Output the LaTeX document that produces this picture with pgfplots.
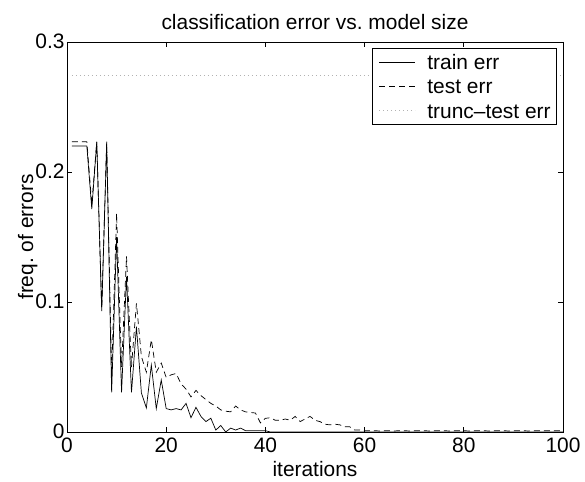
\documentclass[border=0pt]{standalone}
\usepackage{pgfplots}
\pgfplotsset{compat=1.18}
\usepackage{fontspec}
\setmainfont{Liberation Sans}
\pgfplotstableread{
it train test
1 0.220 0.2233
2 0.220 0.2233
3 0.220 0.2233
4 0.220 0.2233
5 0.1715 0.175
6 0.223 0.2233
7 0.093 0.095
8 0.222 0.2233
9 0.0305 0.045
10 0.150 0.168
11 0.0305 0.050
12 0.1195 0.135
13 0.0305 0.050
14 0.081 0.099
15 0.030 0.058
16 0.0185 0.046
17 0.0515 0.071
18 0.018 0.046
19 0.040 0.053
20 0.018 0.042
21 0.017 0.044
22 0.018 0.045
23 0.017 0.037
24 0.022 0.033
25 0.011 0.027
26 0.019 0.032
27 0.012 0.028
28 0.008 0.025
29 0.0106 0.022
30 0.0015 0.020
31 0.005 0.017
32 0.000 0.016
33 0.003 0.0155
34 0.0015 0.020
35 0.003 0.017
36 0.001 0.0155
37 0.001 0.015
38 0.001 0.0146
39 0.001 0.007
40 0.001 0.0105
41 0 0.011
42 0 0.009
43 0 0.009
44 0 0.010
45 0 0.009
46 0 0.012
47 0 0.008
48 0 0.010
49 0 0.012
50 0 0.009
51 0 0.008
52 0 0.006
53 0 0.0055
54 0 0.006
55 0 0.0055
56 0 0.004
57 0 0.004
58 0 0.0015
59 0 0.0015
60 0 0.001
61 0 0.001
62 0 0.001
63 0 0.0008
64 0 0.001
65 0 0.001
66 0 0.0008
67 0 0.001
68 0 0.001
69 0 0.0008
70 0 0.001
71 0 0.001
72 0 0.001
73 0 0.0008
74 0 0.001
75 0 0.001
76 0 0.001
77 0 0.0008
78 0 0.001
79 0 0.001
80 0 0.001
81 0 0.0008
82 0 0.001
83 0 0.001
84 0 0.001
85 0 0.0008
86 0 0.001
87 0 0.001
88 0 0.001
89 0 0.0008
90 0 0.001
91 0 0.001
92 0 0.001
93 0 0.0008
94 0 0.001
95 0 0.001
96 0 0.001
97 0 0.001
98 0 0.001
99 0 0.001
100 0 0.001
}\errdata
\pgfplotstableread{
it trunc
1 0.274
100 0.274
}\truncdata
\begin{document}
\begin{tikzpicture}
\useasboundingbox (-67bp,-50bp) rectangle (518bp,432bp);
\begin{axis}[
  scale only axis, width=496bp, height=390bp,
  xmin=0, xmax=100, ymin=0, ymax=0.3,
  xtick={0,20,40,60,80,100}, ytick={0,0.1,0.2,0.3},
  tick align=inside, major tick length=5bp,
  axis line style={line width=0.9bp},
  every tick/.style={black, line width=0.7bp},
  /pgf/number format/assume math mode=true,
  tick label style={font=\fontsize{21}{25}\selectfont},
  xticklabel style={yshift=-2bp},
  yticklabel style={/pgf/number format/fixed, /pgf/number format/precision=1, xshift=1bp, yshift=1bp},
  label style={font=\fontsize{21}{25}\selectfont},
  xlabel style={yshift=-2bp},
  ylabel style={yshift=-9bp},
  title style={font=\fontsize{21}{25}\selectfont, yshift=3bp},
  title={classification error vs.\ model size},
  xlabel={iterations}, ylabel={freq.\ of errors},
  legend style={at={(0.988,0.985)}, anchor=north east, draw=black, line width=0.8bp,
    font=\fontsize{21}{24}\selectfont, inner xsep=6bp, inner ysep=3.7bp,
    row sep=4.3bp,
    nodes={inner xsep=0bp, inner ysep=2.5bp, text height=15bp, text depth=0bp},
    /tikz/every odd column/.append style={column sep=12bp}},
  legend cell align=left,
  legend image code/.code={\draw[#1] (0bp,0bp) -- (36bp,0bp);},
]
\addplot[black, line width=0.7bp] table[x=it, y=train] {\errdata};
\addlegendentry{train err}
\addplot[black, line width=0.7bp, dash pattern=on 6bp off 4bp] table[x=it, y=test] {\errdata};
\addlegendentry{test err}
\addplot[gray!60, line width=0.8bp, dash pattern=on 1bp off 3bp] table[x=it, y=trunc] {\truncdata};
\addlegendentry{trunc--test err}
\end{axis}
\end{tikzpicture}
\end{document}
